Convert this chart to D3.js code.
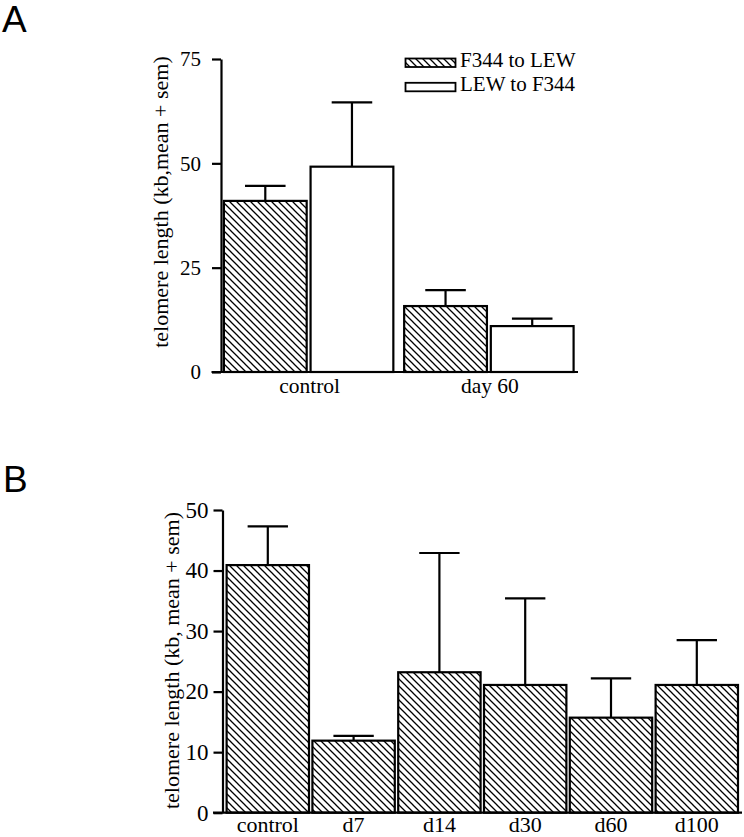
<!DOCTYPE html>
<html>
<head>
<meta charset="utf-8">
<script src="https://cdn.jsdelivr.net/npm/d3@7"></script>
<style>
  html, body { margin: 0; padding: 0; background: #fff; }
  svg { display: block; }
</style>
</head>
<body>
<script>
// ---------- Panel A data ----------
const groupsA = ["control", "day 60"];
const seriesA = ["F344 to LEW", "LEW to F344"];
const meanF344toLEW = [41.0, 15.8];
const semF344toLEW = [3.6, 3.8];
const meanLEWtoF344 = [49.2, 11.0];
const semLEWtoF344 = [15.4, 1.8];
const ticksA = [0, 25, 50, 75];

// ---------- Panel B data ----------
const categoriesB = ["control", "d7", "d14", "d30", "d60", "d100"];
const meanB = [40.9, 11.9, 23.2, 21.1, 15.7, 21.1];
const semB = [6.4, 0.8, 19.7, 14.3, 6.5, 7.4];
const ticksB = [0, 10, 20, 30, 40, 50];

const SERIF = "Liberation Serif";
const SANS = "Liberation Sans";

const W = 744, H = 837;
const svg = d3.select("body").append("svg").attr("width", W).attr("height", H);

const defs = svg.append("defs");
const pat = defs.append("pattern")
  .attr("id", "hatch").attr("patternUnits", "userSpaceOnUse")
  .attr("width", 7).attr("height", 7);
pat.append("rect").attr("width", 7).attr("height", 7).attr("fill", "#fff");
pat.append("path")
  .attr("d", "M-1,-1 L8,8 M-1,6 L1,8 M6,-1 L8,1")
  .attr("stroke", "#000").attr("stroke-width", 1.3);

const SW = 2.2;

function serifText(sel, size) {
  return sel.attr("font-family", SERIF).attr("font-size", size).attr("fill", "#000");
}

// ================= PANEL A =================
const aAxisX = 221, aTop = 59, aBottom = 372;
const yA = d3.scaleLinear().domain([0, 75]).range([aBottom, aTop]);
const x0A = d3.scaleBand().domain(groupsA).range([218.5, 579]).paddingInner(0.06).paddingOuter(0.03);
const x1A = d3.scaleBand().domain(seriesA).range([0, x0A.bandwidth()]).paddingInner(0.045);

const dataA = [];
groupsA.forEach((g, i) => {
  dataA.push({ g, s: seriesA[0], m: meanF344toLEW[i], e: semF344toLEW[i] });
  dataA.push({ g, s: seriesA[1], m: meanLEWtoF344[i], e: semLEWtoF344[i] });
});
const fillA = d3.scaleOrdinal().domain(seriesA).range(["url(#hatch)", "#fff"]);

const gA = svg.append("g");
const capA = x1A.bandwidth() * 0.245;
dataA.forEach(d => {
  const cx = x0A(d.g) + x1A(d.s) + x1A.bandwidth() / 2;
  gA.append("line").attr("x1", cx).attr("x2", cx).attr("y1", yA(d.m)).attr("y2", yA(d.m + d.e))
    .attr("stroke", "#000").attr("stroke-width", SW);
  gA.append("line").attr("x1", cx - capA).attr("x2", cx + capA).attr("y1", yA(d.m + d.e)).attr("y2", yA(d.m + d.e))
    .attr("stroke", "#000").attr("stroke-width", SW);
});
gA.selectAll("rect.bar").data(dataA).join("rect")
  .attr("class", "bar")
  .attr("x", d => x0A(d.g) + x1A(d.s))
  .attr("y", d => yA(d.m))
  .attr("width", x1A.bandwidth())
  .attr("height", d => yA(0) - yA(d.m))
  .attr("fill", d => fillA(d.s))
  .attr("stroke", "#000").attr("stroke-width", SW);

const axA = gA.append("g").attr("transform", `translate(${aAxisX},0)`)
  .call(d3.axisLeft(yA).tickValues(ticksA).tickSize(9).tickSizeOuter(0).tickPadding(11).tickFormat(d3.format("d")));
axA.attr("font-family", SERIF).attr("font-size", 21);
axA.select(".domain").attr("stroke-width", SW);
axA.selectAll(".tick line").attr("stroke-width", SW);
serifText(axA.selectAll(".tick text"), 21);
gA.append("line").attr("x1", 211.5).attr("x2", 578).attr("y1", yA(0)).attr("y2", yA(0))
  .attr("stroke", "#000").attr("stroke-width", SW);
groupsA.forEach(g => {
  serifText(gA.append("text").attr("x", x0A(g) + x0A.bandwidth() / 2 + 1).attr("y", 393)
    .attr("text-anchor", "middle"), 21.5).text(g);
});
serifText(gA.append("text").attr("transform", "translate(168,202) rotate(-90)")
  .attr("text-anchor", "middle"), 22)
  .text("telomere length (kb,mean + sem)");
seriesA.forEach((s, i) => {
  const ly = 58.5 + i * 24.3;
  gA.append("rect").attr("x", 405.5).attr("y", ly).attr("width", 50).attr("height", 8.5)
    .attr("fill", fillA(s)).attr("stroke", "#000").attr("stroke-width", 1.8);
  serifText(gA.append("text").attr("x", 460).attr("y", ly + 8.5), 21).text(s);
});
svg.append("text").attr("x", 2).attr("y", 32)
  .attr("font-family", SANS).attr("font-size", 37).attr("fill", "#000").text("A");

// ================= PANEL B =================
const bAxisX = 222.5, bTop = 510, bBottom = 812.7;
const yB = d3.scaleLinear().domain([0, 50]).range([bBottom, bTop]);
const xB = d3.scaleBand().domain(categoriesB).range([224.9, 739.7]).paddingInner(0.04).paddingOuter(0.02);
const dataB = categoriesB.map((c, i) => ({ c, m: meanB[i], e: semB[i] }));

const gB = svg.append("g");
const capB = xB.bandwidth() * 0.245;
dataB.forEach(d => {
  const cx = xB(d.c) + xB.bandwidth() / 2;
  gB.append("line").attr("x1", cx).attr("x2", cx).attr("y1", yB(d.m)).attr("y2", yB(d.m + d.e))
    .attr("stroke", "#000").attr("stroke-width", SW);
  gB.append("line").attr("x1", cx - capB).attr("x2", cx + capB).attr("y1", yB(d.m + d.e)).attr("y2", yB(d.m + d.e))
    .attr("stroke", "#000").attr("stroke-width", SW);
});
gB.selectAll("rect.bar").data(dataB).join("rect")
  .attr("class", "bar")
  .attr("x", d => xB(d.c))
  .attr("y", d => yB(d.m))
  .attr("width", xB.bandwidth())
  .attr("height", d => yB(0) - yB(d.m))
  .attr("fill", "url(#hatch)")
  .attr("stroke", "#000").attr("stroke-width", SW);

const axB = gB.append("g").attr("transform", `translate(${bAxisX},0)`)
  .call(d3.axisLeft(yB).tickValues(ticksB).tickSize(9).tickSizeOuter(0).tickPadding(5).tickFormat(d3.format("d")));
axB.attr("font-family", SERIF).attr("font-size", 23);
axB.select(".domain").attr("stroke-width", SW);
axB.selectAll(".tick line").attr("stroke-width", SW);
serifText(axB.selectAll(".tick text"), 23);
gB.append("line").attr("x1", 213).attr("x2", 742).attr("y1", yB(0)).attr("y2", yB(0))
  .attr("stroke", "#000").attr("stroke-width", SW);
categoriesB.forEach(c => {
  serifText(gB.append("text").attr("x", xB(c) + xB.bandwidth() / 2).attr("y", 832)
    .attr("text-anchor", "middle"), 22).text(c);
});
serifText(gB.append("text").attr("transform", "translate(178.5,660.5) rotate(-90)")
  .attr("text-anchor", "middle"), 22)
  .text("telomere length (kb, mean + sem)");
svg.append("text").attr("x", 3).attr("y", 492)
  .attr("font-family", SANS).attr("font-size", 37).attr("fill", "#000").text("B");
</script>
</body>
</html>
